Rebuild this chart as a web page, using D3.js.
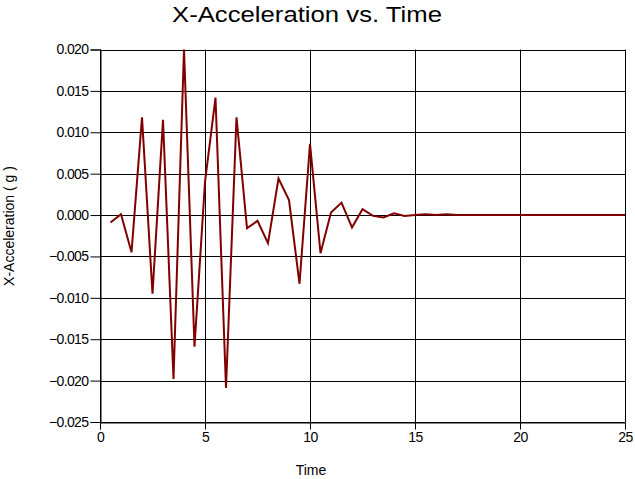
<!DOCTYPE html>
<html lang="en">
<head>
	<meta charset="UTF-8">
	<title>X-Acceleration vs. Time</title>
	<script src="https://cdn.jsdelivr.net/npm/d3@7"></script>
	<style>
		body { margin: 0; background: #fff; }
		svg { display: block; font-family: "Liberation Sans", Arial, sans-serif; }
	</style>
</head>
<body>
	<div id="vis"></div>

	<script>
		var width = 635;
		var height = 479;

		// data
		var times = [0.5, 1.0, 1.5, 2.0, 2.5, 3.0, 3.5, 4.0, 4.5, 5.0,
			5.5, 6.0, 6.5, 7.0, 7.5, 8.0, 8.5, 9.0, 9.5, 10.0,
			10.5, 11.0, 11.5, 12.0, 12.5, 13.0, 13.5, 14.0, 14.5, 15.0,
			15.5, 16.0, 16.5, 17.0, 17.5, 18.0, 18.5, 19.0, 19.5, 20.0,
			20.5, 21.0, 21.5, 22.0, 22.5, 23.0, 23.5, 24.0, 24.5, 25.0];
		var accel = [-0.0009, 0.0001, -0.0045, 0.0118, -0.0095, 0.0115, -0.0198, 0.0200, -0.0159, 0.0040,
			0.0142, -0.0209, 0.0118, -0.0016, -0.0007, -0.0034, 0.0044, 0.0018, -0.0083, 0.0086,
			-0.0046, 0.0003, 0.0015, -0.0015, 0.0007, -0.0001, -0.0003, 0.0002, -0.0001, 0.0000,
			0.0001, 0.0000, 0.0001, 0.0000, 0.0000, 0.0000, 0.0000, 0.0000, 0.0000, 0.0000,
			0.0000, 0.0000, 0.0000, 0.0000, 0.0000, 0.0000, 0.0000, 0.0000, 0.0000, 0.0000];
		var xTicks = [0, 5, 10, 15, 20, 25];
		var yTicks = [-0.025, -0.020, -0.015, -0.010, -0.005, 0.000, 0.005, 0.010, 0.015, 0.020];

		// plot box (don't call these top/left: those are window globals)
		var plotLeft = 100, plotRight = 625, plotTop = 49.5, plotBottom = 422;

		var svg = d3.select("#vis").append("svg")
			.attr("width", width)
			.attr("height", height);

		var x = d3.scaleLinear().domain([0, 25]).range([plotLeft, plotRight]);
		var y = d3.scaleLinear().domain([-0.025, 0.020]).range([plotBottom, plotTop]);

		// grid
		svg.append("g")
			.selectAll("line")
			.data(xTicks)
			.join("line")
				.attr("x1", function(d) { return Math.round(x(d)) + 0.5; })
				.attr("x2", function(d) { return Math.round(x(d)) + 0.5; })
				.attr("y1", y(0.020))
				.attr("y2", y(-0.025))
				.attr("stroke", "#000");

		svg.append("g")
			.selectAll("line")
			.data(yTicks)
			.join("line")
				.attr("x1", x(0))
				.attr("x2", x(25))
				.attr("y1", function(d) { return Math.round(y(d)) + 0.5; })
				.attr("y2", function(d) { return Math.round(y(d)) + 0.5; })
				.attr("stroke", "#000");

		// axes
		var xAxis = svg.append("g")
			.attr("transform", "translate(0," + (Math.round(y(-0.025)) + 0.5) + ")")
			.call(d3.axisBottom(x).tickValues(xTicks).tickSize(7).tickPadding(3).tickFormat(d3.format("d")));

		var yAxis = svg.append("g")
			.attr("transform", "translate(" + (Math.round(x(0)) + 0.5) + ",0)")
			.call(d3.axisLeft(y).tickValues(yTicks).tickSize(10).tickPadding(2).tickFormat(d3.format(".3f")));

		[xAxis, yAxis].forEach(function(g) {
			g.select(".domain").attr("stroke", "#000");
			g.selectAll(".tick line").attr("stroke", "#000");
			g.selectAll(".tick text")
				.attr("fill", "#000")
				.style("font-family", "'Liberation Sans', Arial, sans-serif")
				.style("font-size", "14px")
				.style("letter-spacing", "-0.6px");
		});

		// data line
		var line = d3.line()
			.x(function(d, i) { return x(times[i]); })
			.y(function(d) { return y(d); });

		svg.append("path")
			.datum(accel)
			.attr("d", line)
			.attr("fill", "none")
			.attr("stroke", "#800000")
			.attr("stroke-width", 2);

		// titles
		svg.append("text")
			.attr("x", 307)
			.attr("y", 22)
			.attr("text-anchor", "middle")
			.style("font-size", "22px")
			.attr("textLength", 270)
			.attr("lengthAdjust", "spacingAndGlyphs")
			.text("X-Acceleration vs. Time");

		svg.append("text")
			.attr("x", 311)
			.attr("y", 475)
			.attr("text-anchor", "middle")
			.style("font-size", "14px")
			.text("Time");

		svg.append("text")
			.attr("transform", "translate(14,226) rotate(-90)")
			.attr("text-anchor", "middle")
			.style("font-size", "14px")
			.text("X-Acceleration ( g )");
	</script>
</body>
</html>
